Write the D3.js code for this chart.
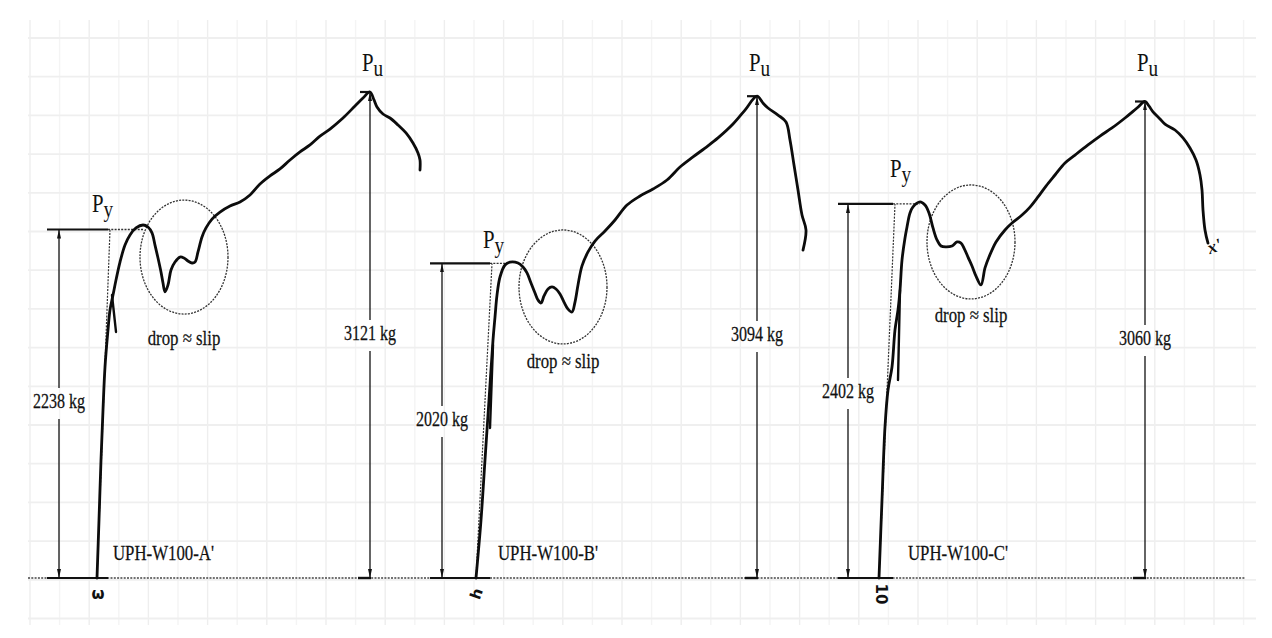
<!DOCTYPE html>
<html>
<head>
<meta charset="utf-8">
<script src="https://cdn.jsdelivr.net/npm/d3@7"></script>
<style>
  body { margin: 0; background: #fff; }
  svg { display: block; }
</style>
</head>
<body>
<svg id="chart" width="1272" height="638"></svg>
<script>
// ---- data (load in kg, displacement in 0.1 mm steps from curve start) ----
var specimens = ["UPH-W100-A'", "UPH-W100-B'", "UPH-W100-C'"];
var yieldLoads = [2238, 2020, 2402];
var ultimateLoads = [3121, 3094, 3060];
var yieldDisp = [23, 17, 20.5];
var slipCenters = [[43.5, 2061], [43.5, 1869], [46, 2158]];
var slipHalfWidth = 22;
var slipHalfHeight = 366;
var slipText = "drop \u2248 slip";

var curveA = [[0,0],[1,372],[2,758],[3,1079],[4,1355],[5.5,1593],[6.5,1721],[8,1817],[9.5,1914],[11.5,2029],
  [14,2138],[16.5,2203],[19.5,2248],[23,2267],[25.5,2254],[27.5,2216],[29,2138],[30.5,2055],[32,1965],[33,1894],
  [34,1837],[35.5,1882],[37,1978],[39,2029],[41.5,2061],[43.5,2055],[45.5,2036],[47.5,2023],[49,2029],[50.5,2094],
  [52.5,2190],[54.5,2248],[57.5,2305],[61.5,2350],[66.5,2389],[71.5,2415],[76.5,2460],[81.5,2530],[86.5,2582],
  [91.5,2627],[96.5,2684],[101.5,2736],[106.5,2781],[111.5,2838],[116.5,2883],[123,2954],[129,3031],[133,3082],
  [136.5,3121],[138.5,3070],[140,3025],[143,2980],[146.5,2954],[150.5,2909],[154.5,2858],[158,2793],[160.5,2729],
  [161.5,2684],[161.5,2620]];
var curveB = [[0,0],[2.5,372],[4.5,758],[6.5,1143],[8.5,1528],[9.5,1676],[10.5,1817],[12,1933],[14.5,2010],[17,2029],
  [21,2023],[23.5,1997],[25.5,1959],[27.5,1894],[29.5,1830],[31,1785],[32.5,1766],[34,1811],[36,1856],[38,1869],
  [40,1856],[42,1824],[44,1772],[46,1727],[48,1708],[49.5,1772],[51,1882],[53,2004],[56,2094],[59.5,2164],
  [64.5,2228],[69.5,2299],[75.5,2395],[82,2453],[88.5,2498],[95.5,2556],[102,2639],[108.5,2704],[114.5,2761],
  [121,2826],[128.5,2915],[134.5,3005],[140.5,3094],[143.5,3050],[146,3018],[151,2973],[155,2928],[157,2813],
  [159,2652],[161,2492],[163,2331],[165,2235],[163.5,2106]];
var curveC = [[0,0],[1.5,501],[3,970],[4.5,1207],[6.5,1355],[8,1593],[9.5,1721],[10.5,1849],[11.5,2042],[13,2183],
  [14,2254],[15.5,2344],[17,2383],[20.5,2415],[23,2395],[25,2344],[27,2248],[29,2171],[31,2132],[33.5,2126],
  [36.5,2132],[39,2158],[41,2151],[42.5,2119],[44.5,2061],[46.5,2004],[48.5,1939],[51,1882],[53,1991],[55,2061],
  [58.5,2158],[63,2235],[66.5,2280],[71.5,2331],[75.5,2382],[79.5,2447],[83.5,2517],[88,2588],[93,2665],[98,2716],
  [104.5,2781],[110.5,2838],[116.5,2890],[123,2954],[129,3018],[133,3060],[135,3031],[137,2993],[140.5,2948],
  [143,2915],[148,2877],[152,2826],[155.5,2761],[158.5,2684],[160.5,2588],[161.5,2492],[162,2363],[163,2235],
  [164.5,2151]];
var curves = [curveA, curveB, curveC];
var unloadBranches = [[[7.5,1817],[9.5,1580]], [[8.5,1496],[7,963]], [[10.5,1849],[9.5,1272]]];
var handMarks = ["\u03c9", "h", "10"];

// ---- layout ----
var FONT = "'Liberation Serif', 'Times New Roman', serif";
var SQUEEZE = 0.8;
var panels = [
  { origin: 97,  arrowX: 59,  lineX0: 47,  lineX1: 108, pyLabel: [92, 212],  pyValY: 408, puValY: 340, slipY: 345, specX: 113, markRot: 0 },
  { origin: 476, arrowX: 442, lineX0: 430, lineX1: 490, pyLabel: [483, 248], pyValY: 426, puValY: 341, slipY: 368, specX: 498, markRot: -70 },
  { origin: 879, arrowX: 848, lineX0: 838, lineX1: 893, pyLabel: [890, 177], pyValY: 398, puValY: 345, slipY: 322, specX: 908, markRot: 90 }
];

var svg = d3.select("#chart");
var y = d3.scaleLinear().domain([0, 3121]).range([578, 92]);
var y0 = y(0);

// arrow heads
var defs = svg.append("defs");
defs.append("marker")
  .attr("id", "arrow")
  .attr("viewBox", "0 0 9 4")
  .attr("refX", 9).attr("refY", 2)
  .attr("markerWidth", 9).attr("markerHeight", 4)
  .attr("markerUnits", "userSpaceOnUse")
  .attr("orient", "auto")
  .append("path").attr("d", "M0,0 L9,2 L0,4 Z").attr("fill", "#111");

// background graph paper (faint)
var grid = svg.append("g");
d3.range(30, 1257, 29.6).forEach(function(gx, i) {
  grid.append("line").attr("x1", gx).attr("x2", gx).attr("y1", 20).attr("y2", 625)
    .attr("stroke", i % 2 ? "#f4f4f4" : "#eeeeee").attr("stroke-width", 1.4);
});
d3.range(38, 626, 38.7).forEach(function(gy) {
  grid.append("line").attr("x1", 28).attr("x2", 1256).attr("y1", gy).attr("y2", gy)
    .attr("stroke", "#efefef").attr("stroke-width", 1.8);
});

// dotted zero line
svg.append("line").attr("x1", 28).attr("x2", 1245).attr("y1", y0).attr("y2", y0)
  .attr("stroke", "#444").attr("stroke-width", 1.6).attr("stroke-dasharray", "2,1.3");

function addText(g, x, yy, str, size, anchor) {
  return g.append("text")
    .attr("transform", "translate(" + x + "," + yy + ") scale(" + SQUEEZE + ",1)")
    .attr("font-family", FONT).attr("font-size", size)
    .attr("text-anchor", anchor || "middle").attr("fill", "#111")
    .attr("stroke", "#111").attr("stroke-width", 0.25)
    .text(str);
}

function addP(g, x, yy, sub) {
  var t = g.append("text")
    .attr("transform", "translate(" + x + "," + yy + ") scale(" + SQUEEZE + ",1)")
    .attr("font-family", FONT).attr("fill", "#111");
  t.append("tspan").attr("font-size", 26).text("P");
  t.append("tspan").attr("font-size", 24).attr("dy", 5).text(sub);
}

function vArrow(g, x, yTop, yBot, labelY, label) {
  var gapTop = labelY - 20, gapBot = labelY + 11;
  g.append("line").attr("x1", x).attr("x2", x).attr("y1", gapTop).attr("y2", yTop)
    .attr("stroke", "#111").attr("stroke-width", 1.3).attr("marker-end", "url(#arrow)");
  g.append("line").attr("x1", x).attr("x2", x).attr("y1", gapBot).attr("y2", yBot)
    .attr("stroke", "#111").attr("stroke-width", 1.3).attr("marker-end", "url(#arrow)");
  addText(g, x, labelY, label, 20);
}

var line = d3.line().curve(d3.curveCatmullRom.alpha(0.5));

panels.forEach(function(p, i) {
  var xs = d3.scaleLinear().domain([0, 170]).range([p.origin, p.origin + 340]);
  var g = svg.append("g");
  var yP = y(yieldLoads[i]);
  var yU = y(ultimateLoads[i]);
  var puPt = curves[i].find(function(d) { return d[1] === ultimateLoads[i]; });
  var xU = xs(puPt[0]);

  // slip zone ellipse
  g.append("ellipse")
    .attr("cx", xs(slipCenters[i][0])).attr("cy", y(slipCenters[i][1]))
    .attr("rx", xs(slipHalfWidth) - xs(0)).attr("ry", y(0) - y(slipHalfHeight))
    .attr("fill", "none").attr("stroke", "#333").attr("stroke-width", 1.3)
    .attr("stroke-dasharray", "2,1.2");
  addText(g, xs(slipCenters[i][0]), p.slipY, slipText, 21);

  // yield level: solid stub, dotted extension, dashed secant
  g.append("line").attr("x1", p.lineX0).attr("x2", p.lineX1).attr("y1", yP).attr("y2", yP)
    .attr("stroke", "#111").attr("stroke-width", 2.2);
  g.append("line").attr("x1", p.lineX1).attr("x2", xs(yieldDisp[i])).attr("y1", yP).attr("y2", yP)
    .attr("stroke", "#333").attr("stroke-width", 1.3).attr("stroke-dasharray", "2,1.3");
  g.append("line").attr("x1", xs(0)).attr("x2", p.lineX1 + 2).attr("y1", y0).attr("y2", yP)
    .attr("stroke", "#333").attr("stroke-width", 1.2).attr("stroke-dasharray", "2,1.3");
  // base stubs
  g.append("line").attr("x1", p.lineX0).attr("x2", p.lineX1).attr("y1", y0).attr("y2", y0)
    .attr("stroke", "#111").attr("stroke-width", 2.2);
  g.append("line").attr("x1", xU - 12).attr("x2", xU + 1).attr("y1", y0).attr("y2", y0)
    .attr("stroke", "#111").attr("stroke-width", 2.4);
  g.append("line").attr("x1", xU - 10).attr("x2", xU).attr("y1", yU).attr("y2", yU)
    .attr("stroke", "#111").attr("stroke-width", 2.2);

  vArrow(g, p.arrowX, yP, y0, p.pyValY, yieldLoads[i] + " kg");
  vArrow(g, xU, yU, y0, p.puValY, ultimateLoads[i] + " kg");

  // load-slip curve
  g.append("path")
    .attr("d", line(curves[i].map(function(d) { return [xs(d[0]), y(d[1])]; })))
    .attr("fill", "none").attr("stroke", "#0c0c0c").attr("stroke-width", 2.8)
    .attr("stroke-linejoin", "round").attr("stroke-linecap", "round");
  g.append("path")
    .attr("d", line(unloadBranches[i].map(function(d) { return [xs(d[0]), y(d[1])]; })))
    .attr("fill", "none").attr("stroke", "#0c0c0c").attr("stroke-width", 2.4)
    .attr("stroke-linecap", "round");

  addP(g, p.pyLabel[0], p.pyLabel[1], "y");
  addP(g, xU - 8, 71, "u");
  addText(g, p.specX, 560, specimens[i], 21, "start");

  // hand-written marks under the curve start
  g.append("text")
    .attr("transform", "translate(" + (xs(0) + 1) + "," + 594 + ") rotate(" + p.markRot + ")")
    .attr("font-family", "'DejaVu Sans', sans-serif").attr("font-size", 15).attr("font-weight", "bold")
    .attr("text-anchor", "middle").attr("dominant-baseline", "middle").attr("fill", "#111")
    .text(handMarks[i]);
});

// scribble at end of C curve
svg.append("text")
  .attr("transform", "translate(1215,248) rotate(-20)")
  .attr("font-family", FONT).attr("font-style", "italic").attr("font-weight", "bold")
  .attr("font-size", 18).attr("text-anchor", "middle").attr("dominant-baseline", "middle")
  .attr("fill", "#111").text("x'");
</script>
</body>
</html>
